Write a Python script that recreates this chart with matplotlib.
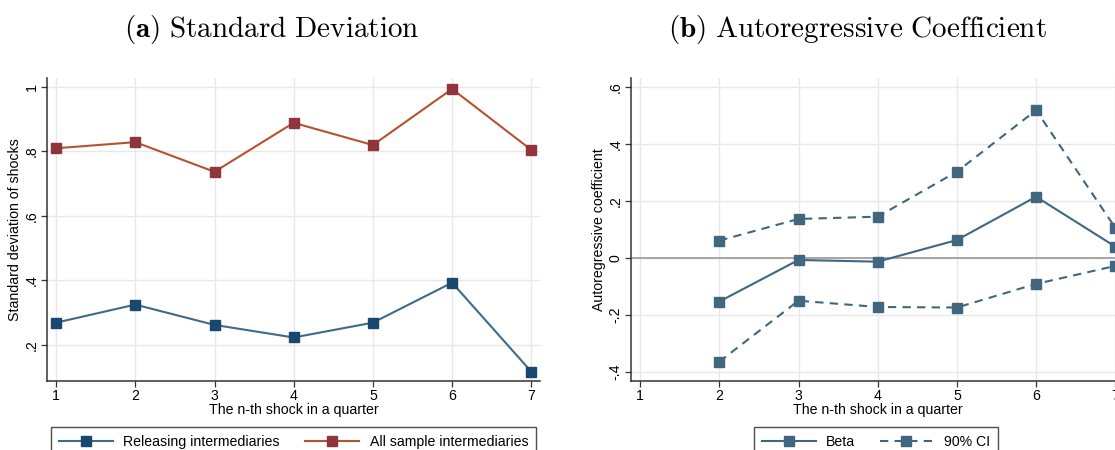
import matplotlib
matplotlib.use("Agg")
import matplotlib.pyplot as plt

plt.rcParams['font.family'] = ['Liberation Sans', 'DejaVu Sans']
plt.rcParams['mathtext.fontset'] = 'cm'

# ---------------- data ----------------
shock_n = [1, 2, 3, 4, 5, 6, 7]
sd_releasing = [0.269, 0.325, 0.262, 0.223, 0.269, 0.393, 0.117]
sd_all = [0.810, 0.829, 0.737, 0.889, 0.820, 0.994, 0.805]

ar_n = [2, 3, 4, 5, 6, 7]
ar_beta = [-0.153, -0.007, -0.013, 0.063, 0.215, 0.040]
ar_upper = [0.061, 0.137, 0.145, 0.303, 0.519, 0.106]
ar_lower = [-0.364, -0.150, -0.172, -0.174, -0.091, -0.028]

left_yticks = [0.2, 0.4, 0.6, 0.8, 1.0]
left_yticklabels = ['.2', '.4', '.6', '.8', '1']
right_yticks = [-0.4, -0.2, 0.0, 0.2, 0.4, 0.6]
right_yticklabels = ['-.4', '-.2', '0', '.2', '.4', '.6']

# ---------------- style ----------------
W, H = 1115, 450
fig = plt.figure(figsize=(W / 100, H / 100), dpi=100)

navy_m = '#1a476f'
navy_l = '#3f6a8a'
red_m = '#90353b'
red_l = '#b5532f'
slate = '#40677f'
grid_c = '#e8e8e8'
tick_fs = 10.2


def fx(px):
    return px / W


def fy(py):
    return 1 - py / H


def style_axes(ax, yticks, yticklabels):
    for s in ['top', 'right']:
        ax.spines[s].set_visible(False)
    for s in ['left', 'bottom']:
        ax.spines[s].set_color('#333333')
        ax.spines[s].set_linewidth(1.1)
    ax.set_xticks(shock_n)
    ax.set_yticks(yticks)
    ax.set_yticklabels(yticklabels, rotation=90, va='center')
    ax.tick_params(axis='both', labelsize=tick_fs, length=4, width=0.9,
                   color='#333333', pad=2)
    ax.grid(True, color=grid_c, linewidth=1.0)
    ax.set_axisbelow(True)
    ax.set_xlabel('The n-th shock in a quarter', fontsize=tick_fs, labelpad=0)


# Left panel
axL_l, axL_r = 47, 540
ax1 = fig.add_axes([fx(axL_l), fy(381), fx(axL_r - axL_l), (381 - 78) / H])
ax1.plot(shock_n, sd_releasing, color=navy_l, lw=1.5, marker='s', ms=6.5,
         mfc=navy_m, mec=navy_m, label='Releasing intermediaries')
ax1.plot(shock_n, sd_all, color=red_l, lw=1.5, marker='s', ms=6.5,
         mfc=red_m, mec=red_m, label='All sample intermediaries')
ax1.set_xlim(0.885, 7.11)
ax1.set_ylim(0.088, 1.028)
style_axes(ax1, left_yticks, left_yticklabels)
ax1.set_ylabel('Standard deviation of shocks', fontsize=tick_fs, labelpad=2)

# Right panel
axR_l, axR_r = 631, 1124
ax2 = fig.add_axes([fx(axR_l), fy(381), fx(axR_r - axR_l), (381 - 78) / H])
ax2.axhline(0, color='#a0a0a0', lw=1.3, zorder=1)
ax2.plot(ar_n, ar_beta, color=slate, lw=1.5, marker='s', ms=6.5,
         mfc=slate, mec=slate, label='Beta')
ax2.plot(ar_n, ar_upper, color=slate, lw=1.5, ls=(0, (4, 3)), marker='s',
         ms=6.5, mfc=slate, mec=slate, label='90% CI')
ax2.plot(ar_n, ar_lower, color=slate, lw=1.5, ls=(0, (4, 3)), marker='s',
         ms=6.5, mfc=slate, mec=slate)
ax2.set_xlim(0.885, 7.11)
ax2.set_ylim(-0.432, 0.632)
style_axes(ax2, right_yticks, right_yticklabels)
ax2.set_ylabel('Autoregressive coefficient', fontsize=tick_fs, labelpad=2)

# Legends
h1, l1 = ax1.get_legend_handles_labels()
leg1 = fig.legend(h1, l1, loc='upper center',
                  bbox_to_anchor=(fx(293.5), fy(427)),
                  ncol=2, fontsize=tick_fs, frameon=True,
                  fancybox=False, edgecolor='#222222', handlelength=3.8,
                  handletextpad=0.75, borderpad=0.55, borderaxespad=0,
                  columnspacing=1.8, numpoints=1)
leg1.get_frame().set_linewidth(1.0)

h2, l2 = ax2.get_legend_handles_labels()
leg2 = fig.legend(h2, l2, loc='upper center',
                  bbox_to_anchor=(fx(876), fy(427)),
                  ncol=2, fontsize=tick_fs, frameon=True,
                  fancybox=False, edgecolor='#222222', handlelength=3.8,
                  handletextpad=0.75, borderpad=0.55, borderaxespad=0,
                  columnspacing=1.7, numpoints=1)
leg2.get_frame().set_linewidth(1.0)

# Panel titles
fig.text(fx(272), fy(29), r'$\mathbf{(a)}\ \mathrm{Standard\ Deviation}$',
         ha='center', va='center', fontsize=21)
fig.text(fx(857), fy(29), r'$\mathbf{(b)}\ \mathrm{Autoregressive\ Coefficient}$',
         ha='center', va='center', fontsize=21)

fig.savefig('out.png', dpi=100)
